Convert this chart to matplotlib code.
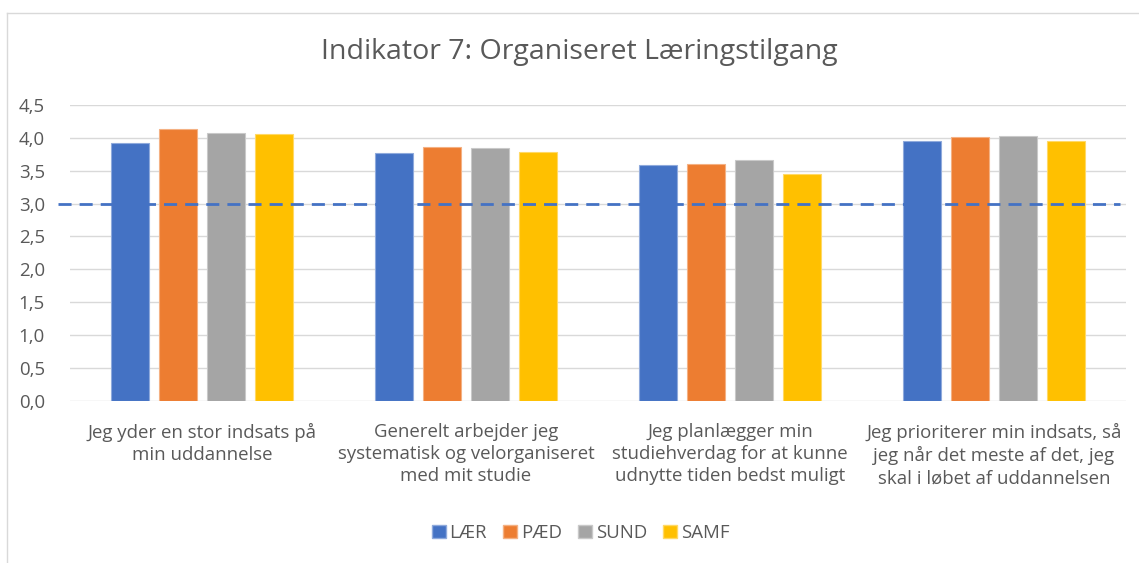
import matplotlib
matplotlib.use("Agg")
import matplotlib.pyplot as plt
import numpy as np
from matplotlib.lines import Line2D
from matplotlib.patches import Patch

categories = [
    "Jeg yder en stor indsats på\nmin uddannelse",
    "Generelt arbejder jeg\nsystematisk og velorganiseret\nmed mit studie",
    "Jeg planlægger min\nstudiehverdag for at kunne\nudnytte tiden bedst muligt",
    "Jeg prioriterer min indsats, så\njeg når det meste af det, jeg\nskal i løbet af uddannelsen",
]
series_names = ["LÆR", "PÆD", "SUND", "SAMF"]
laer = [3.92, 3.77, 3.59, 3.95]
paed = [4.14, 3.86, 3.60, 4.01]
sund = [4.08, 3.85, 3.66, 4.03]
samf = [4.06, 3.79, 3.45, 3.95]
reference_value = 3.0
yticks = [0.0, 0.5, 1.0, 1.5, 2.0, 2.5, 3.0, 3.5, 4.0, 4.5]
title = "Indikator 7: Organiseret Læringstilgang"

colors = ["#4472C4", "#ED7D31", "#A5A5A5", "#FFC000"]
edge_colors = ["#8FAADC", "#F4B183", "#C9C9C9", "#FFD966"]
text_color = "#595959"

plt.rcParams['font.family'] = ['Open Sans', 'DejaVu Sans']

fig = plt.figure(figsize=(11.39, 5.63), dpi=100)
ax = fig.add_axes([70/1139, 1-400.7/563, (1126-70)/1139, (400.7-105)/563])

x = np.arange(len(categories))
width = 0.144
step = 0.182
all_series = [laer, paed, sund, samf]
for i, (vals, name) in enumerate(zip(all_series, series_names)):
    offs = (i - 1.5) * step
    ax.bar(x + offs, vals, width=width, color=colors[i], edgecolor=edge_colors[i],
           linewidth=0.8, label=name, zorder=3)

ax.set_xlim(-0.5, len(categories) - 0.5)
ax.set_ylim(0, 4.5)
ax.set_yticks(yticks)
ax.set_yticklabels([f"{v:.1f}".replace(".", ",") for v in yticks])
ax.set_xticks(x)
ax.set_xticklabels(categories, fontsize=13.4, color=text_color, linespacing=1.3)
ax.tick_params(axis='both', length=0, colors=text_color)
ax.tick_params(axis='y', labelsize=13.4, pad=18)
ax.tick_params(axis='x', pad=16)
ax.grid(axis='y', color="#D9D9D9", linewidth=1.0, zorder=0)
for s in ax.spines.values():
    s.set_visible(False)

# dashed reference line extends slightly left of the plot area
ax.plot([-0.5 - 12/264, 3.5 - 6/264], [reference_value, reference_value],
        color="#4472C4", linestyle=(0, (4.7, 2.9)), linewidth=2.0, zorder=4,
        clip_on=False)

fig.text(579/1139, 1-52/563, title, ha='center', va='center', fontsize=20.5,
         color=text_color)

handles = [Patch(facecolor=colors[i], edgecolor=edge_colors[i], label=series_names[i])
           for i in range(4)]
leg = fig.legend(handles=handles, loc='center', bbox_to_anchor=(580.5/1139, 1-533/563),
                 ncol=4, frameon=False, fontsize=13.4, handlelength=0.75,
                 handleheight=0.75, handletextpad=0.2, columnspacing=0.87)
for t in leg.get_texts():
    t.set_color(text_color)

# chart border (left & top)
fig.add_artist(Line2D([7/1139, 7/1139], [0, 1-13/563], transform=fig.transFigure,
                      color="#D9D9D9", linewidth=1))
fig.add_artist(Line2D([7/1139, 1], [1-13/563, 1-13/563], transform=fig.transFigure,
                      color="#D9D9D9", linewidth=1))

fig.savefig("out.png", dpi=100)
